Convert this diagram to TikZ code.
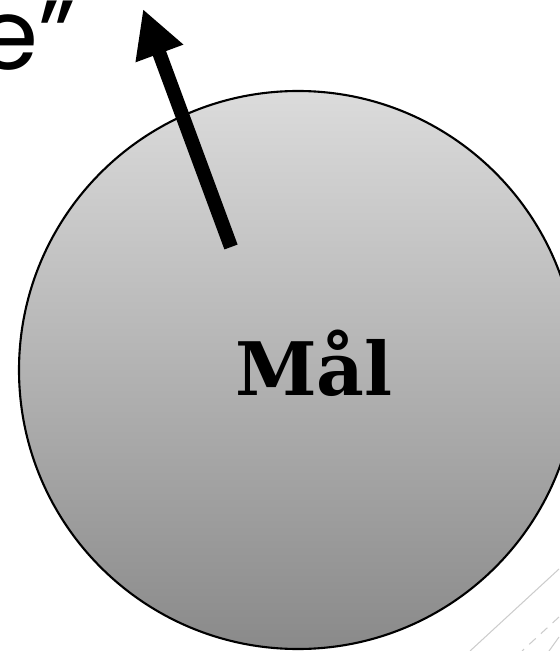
\documentclass[tikz,border=0pt]{standalone}
\usepackage{fontspec}
\setmainfont{DejaVu Serif}
\newfontfamily\headfont{Poppins}
\usetikzlibrary{arrows.meta}

\begin{document}
\begin{tikzpicture}[x=0.02cm, y=-0.02cm]
        % \draw[help lines, gray!50, very thin] (0,0) grid[step=50] (559,651);
        \useasboundingbox (0,0) rectangle (559,651);

        % faint slide decoration, bottom right
        \draw[black!20, line width=0.6pt] (559,569) -- (470,651);
        \draw[black!20, line width=0.6pt, dashed, dash pattern=on 5pt off 4pt] (559,617) -- (522,651);
        \draw[black!20, line width=0.6pt] (559,637) -- (549,651);

        \node[font=\headfont\fontsize{56}{64}\selectfont, inner sep=0pt, anchor=base east] (head) at (76,70) {e”};

        \draw[line width=1.2pt, top color=black!14, middle color=black!23, bottom color=black!46] (298,370) circle (279);
        \node[font=\bfseries\fontsize{42}{50}\selectfont, inner sep=0pt, anchor=base] (maal) at (314,395) {Mål};

        \coordinate (tail) at (231,247);
        \coordinate (tip) at (143,9);
        \draw[-{Triangle[length=27pt, width=27pt]}, line width=8pt] (tail) -- (tip);
      \end{tikzpicture}
\end{document}
